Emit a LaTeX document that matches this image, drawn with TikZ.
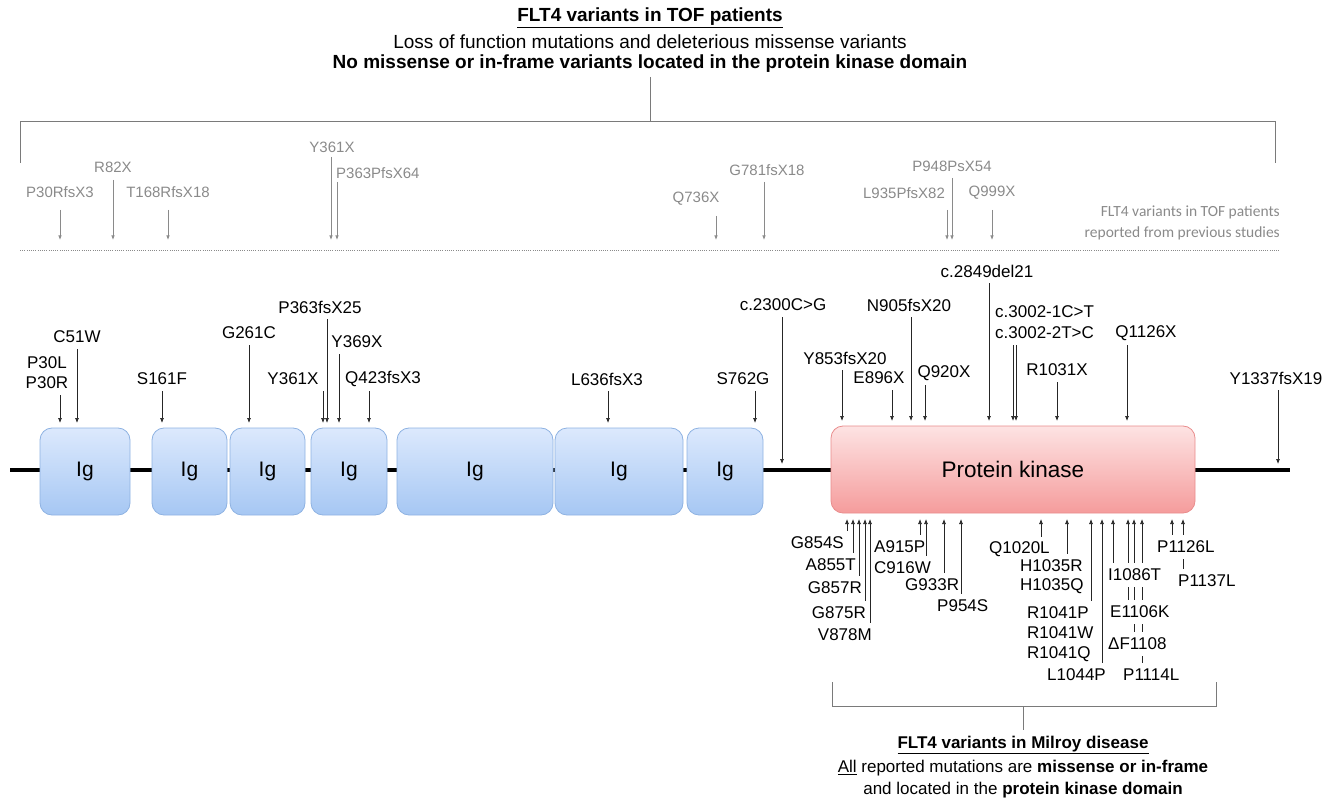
\documentclass[tikz,border=0pt]{standalone}
\usepackage{fontspec}
\setmainfont{Liberation Sans}
\newfontfamily\calib{Carlito}
\usetikzlibrary{arrows.meta}
\definecolor{gtxt}{HTML}{8A8A8A}
\definecolor{brk}{HTML}{7A7A7A}
\definecolor{igtop}{HTML}{DCE9FD}
\definecolor{igbot}{HTML}{A6C7F3}
\definecolor{igdraw}{HTML}{8EB2E2}
\definecolor{pktop}{HTML}{FDE3E3}
\definecolor{pkbot}{HTML}{F59C9C}
\definecolor{pkdraw}{HTML}{E98C8C}
\newcommand{\lblfont}{\fontsize{17}{19}\selectfont}
\newcommand{\gfont}{\fontsize{15}{17}\selectfont}
\newcommand{\hdfont}{\fontsize{19}{21}\selectfont}
\pgfdeclarelayer{bg}
\pgfsetlayers{bg,main}
\begin{document}
\begin{tikzpicture}[x=1pt,y=-1pt,
  lbl/.style={font=\lblfont, inner sep=0pt, minimum height=24pt},
  blbl/.style={font=\lblfont, inner xsep=1pt, inner ysep=0pt, minimum height=24pt, fill=white},
  glbl/.style={font=\gfont, text=gtxt, inner sep=0pt},
  arr/.style={-{Latex[length=5pt,width=4pt]}, line width=0.7pt, draw=black!85},
  garr/.style={-{Latex[length=4.5pt,width=3.5pt]}, line width=0.7pt, draw=gtxt},
  igbox/.style={rounded corners=12pt, draw=igdraw, top color=igtop, bottom color=igbot, line width=0.8pt, minimum height=87pt, font=\fontsize{21}{23}\selectfont, inner sep=0pt},
  pkbox/.style={rounded corners=12pt, draw=pkdraw, top color=pktop, bottom color=pkbot, line width=0.8pt, minimum height=87pt, font=\fontsize{22.5}{25}\selectfont, inner sep=0pt},
  brkline/.style={draw=brk, line width=0.8pt},
  hd/.style={font=\hdfont, inner sep=0pt},
  ft/.style={font=\lblfont, inner sep=0pt}
]
\useasboundingbox (0,0) rectangle (1339,802);

% ---------- header ----------
\node[hd] (h1) at (650,18) {\textbf{\underline{FLT4 variants in TOF patients}}};
\node[hd] (h2) at (650,42) {Loss of function mutations and deleterious missense variants};
\node[hd] (h3) at (650,64) {\textbf{No missense or in-frame variants located in the protein kinase domain}};
\coordinate (bt) at (650,77);
\coordinate (bm) at (650,121);
\coordinate (bl) at (20,121);
\coordinate (br) at (1275,121);
\coordinate (bld) at (20,163);
\coordinate (brd) at (1275,163);
\draw[brkline] (bt) -- (bm);
\draw[brkline] (bld) -- (bl) -- (br) -- (brd);

% ---------- grey (previous studies) ----------
\node[glbl] (gP30) at (60,192) {P30RfsX3};
\node[glbl] (gR82) at (113,167) {R82X};
\node[glbl] (gT168) at (168,192) {T168RfsX18};
\node[glbl] (gY361) at (332,147) {Y361X};
\node[glbl, anchor=west] (gP363) at (336,173) {P363PfsX64};
\node[glbl] (gQ736) at (696,199) {Q736X};
\node[glbl] (gG781) at (767,170) {G781fsX18};
\node[glbl] (gL935) at (904,193) {L935PfsX82};
\node[glbl] (gP948) at (952,166) {P948PsX54};
\node[glbl] (gQ999) at (992,193) {Q999X};
\node[font=\calib\fontsize{15.5}{18}\selectfont, text=gtxt, anchor=east, inner sep=0pt] (gt1) at (1280,212) {FLT4 variants in TOF patients};
\node[font=\calib\fontsize{15.5}{18}\selectfont, text=gtxt, anchor=east, inner sep=0pt] (gt2) at (1280,233) {reported from previous studies};
\coordinate (dl) at (20,251);
\coordinate (dr) at (1280,251);
\draw[draw=gtxt, line width=1pt, dash pattern=on 1pt off 1.2pt] (dl) -- (dr);

\foreach \x/\ys in {60/210, 113/180, 168/210, 331/157, 337/182, 716/216, 764/182, 947/210, 952/178, 992/210}{
  \draw[garr] (\x,\ys) -- (\x,240);
}

% ---------- protein line and domains ----------
\coordinate (m0) at (10,470);
\coordinate (m1) at (1290,470);
\draw[line width=4pt] (m0) -- (m1);
\node[igbox, minimum width=90pt] (ig1) at (85,471.5) {Ig};
\node[igbox, minimum width=75pt] (ig2) at (189.5,471.5) {Ig};
\node[igbox, minimum width=75pt] (ig3) at (267.5,471.5) {Ig};
\node[igbox, minimum width=76pt] (ig4) at (349,471.5) {Ig};
\node[igbox, minimum width=156pt] (ig5) at (475,471.5) {Ig};
\node[igbox, minimum width=128pt] (ig6) at (619,471.5) {Ig};
\node[igbox, minimum width=76pt] (ig7) at (725,471.5) {Ig};
\node[pkbox, minimum width=364pt] (pk) at (1013,469.5) {Protein kinase};

% ---------- top (TOF) labels ----------
\node[lbl] (tP30L) at (47,363) {P30L};
\node[lbl] (tP30R) at (47,383) {P30R};
\node[lbl] (tC51W) at (77,337) {C51W};
\node[lbl] (tS161F) at (162,379) {S161F};
\node[lbl] (tG261C) at (249,333) {G261C};
\node[lbl] (tY361X) at (293,379) {Y361X};
\node[lbl] (tP363) at (320,307) {P363fsX25};
\node[lbl] (tY369X) at (357,342) {Y369X};
\node[lbl] (tQ423) at (383,379) {Q423fsX3};
\node[lbl] (tL636) at (607,379) {L636fsX3};
\node[lbl] (tS762G) at (743,379) {S762G};
\node[lbl] (tc2300) at (783,305) {c.2300C>G};
\node[lbl] (tY853) at (845,358) {Y853fsX20};
\node[lbl] (tE896X) at (879,378) {E896X};
\node[lbl] (tN905) at (909,305) {N905fsX20};
\node[lbl] (tQ920X) at (944,373) {Q920X};
\node[lbl] (tc2849) at (987,271) {c.2849del21};
\node[lbl, anchor=west] (tc3002a) at (995,312) {c.3002-1C>T};
\node[lbl, anchor=west] (tc3002b) at (995,333) {c.3002-2T>C};
\node[lbl] (tR1031X) at (1057,370) {R1031X};
\node[lbl] (tQ1126X) at (1146,333) {Q1126X};
\node[lbl] (tY1337) at (1276,378) {Y1337fsX19};

\foreach \x/\n in {60/tP30R, 77/tC51W, 162/tS161F, 249/tG261C, 323/tY361X, 327/tP363, 339/tY369X, 369/tQ423, 608/tL636, 755/tS762G}{
  \draw[arr] (\n.south -| \x,0) -- (\x,423);
}
\foreach \x/\n in {842/tY853, 892/tE896X, 911/tN905, 925/tQ920X, 989/tc2849, 1013/tc3002b, 1016/tc3002b, 1057/tR1031X, 1127/tQ1126X}{
  \draw[arr] (\n.south -| \x,0) -- (\x,421);
}
\draw[arr] (tc2300.south -| 782,0) -- (782,464);
\draw[arr] (tY1337.south -| 1278,0) -- (1278,464);

% ---------- bottom (Milroy) labels ----------
\node[blbl, anchor=east] (bG854S) at (845,543) {G854S};
\node[blbl, anchor=east] (bA855T) at (857,565) {A855T};
\node[blbl, anchor=east] (bG857R) at (863,588) {G857R};
\node[blbl, anchor=east] (bG875R) at (867,613) {G875R};
\node[blbl, anchor=east] (bV878M) at (873,635) {V878M};
\node[blbl, anchor=west] (bA915P) at (873,547) {A915P};
\node[blbl, anchor=west] (bC916W) at (873,568) {C916W};
\node[blbl, anchor=west] (bG933R) at (904,585) {G933R};
\node[blbl, anchor=west] (bP954S) at (936,606) {P954S};
\node[blbl, anchor=west] (bQ1020L) at (988,549) {Q1020L};
\node[blbl, anchor=west] (bH1035R) at (1019,566) {H1035R};
\node[blbl, anchor=west] (bH1035Q) at (1019,586) {H1035Q};
\node[blbl, anchor=west] (bR1041P) at (1026,613) {R1041P};
\node[blbl, anchor=west] (bR1041W) at (1026,633) {R1041W};
\node[blbl, anchor=west] (bR1041Q) at (1026,654) {R1041Q};
\node[blbl, anchor=west] (bL1044P) at (1046,675) {L1044P};
\node[blbl, anchor=west] (bI1086T) at (1107,575) {I1086T};
\node[blbl, anchor=west] (bE1106K) at (1109,612) {E1106K};
\node[blbl, anchor=west] (bDF1108) at (1107,644) {ΔF1108};
\node[blbl, anchor=west] (bP1114L) at (1122,675) {P1114L};
\node[blbl, anchor=west] (bP1126L) at (1156,547) {P1126L};
\node[blbl, anchor=west] (bP1137L) at (1177,581) {P1137L};

\begin{pgfonlayer}{bg}
\foreach \x/\n in {847/bG854S, 853/bA855T, 859/bG857R, 865/bG875R, 870/bV878M, 920/bA915P, 926/bC916W, 944/bG933R, 961/bP954S, 1041/bQ1020L, 1067/bH1035R, 1091/bR1041P, 1102/bL1044P, 1113/bI1086T, 1128/bE1106K, 1134/bDF1108, 1142/bP1114L, 1172/bP1126L, 1183/bP1137L}{
  \draw[arr] (\n.north -| \x,0) -- (\x,519);
}
\end{pgfonlayer}

% ---------- bottom bracket and footer ----------
\coordinate (ql) at (832,682);
\coordinate (qlb) at (832,706);
\coordinate (qr) at (1216,682);
\coordinate (qrb) at (1216,706);
\coordinate (qm) at (1023,706);
\coordinate (qs) at (1023,730);
\draw[brkline] (ql) -- (qlb) -- (qrb) -- (qr);
\draw[brkline] (qm) -- (qs);
\node[ft] (f1) at (1023,745) {\textbf{\underline{FLT4 variants in Milroy disease}}};
\node[ft] (f2) at (1023,768) {\underline{All} reported mutations are \textbf{missense or in-frame}};
\node[ft] (f3) at (1023,790) {and located in the \textbf{protein kinase domain}};
\end{tikzpicture}
\end{document}
